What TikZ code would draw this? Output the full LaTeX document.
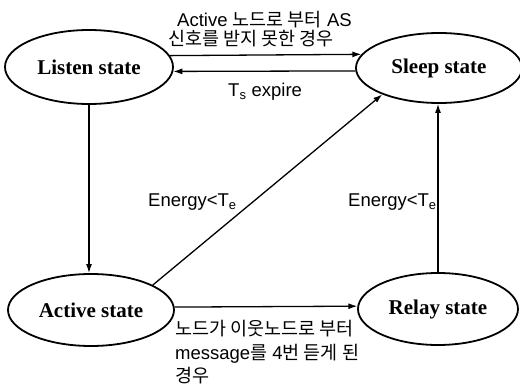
\documentclass[tikz,border=0pt]{standalone}
\usepackage{fontspec}
\setmainfont{Liberation Sans}
\newfontfamily\kr{Noto Sans CJK KR}
\newfontfamily\statefont{Liberation Serif}
\usetikzlibrary{shapes.geometric,arrows.meta}
\begin{document}
\begin{tikzpicture}[x=1pt,y=-1pt,
  state/.style={ellipse,draw,line width=1.8pt,inner sep=0pt,
    font=\statefont\bfseries\fontsize{21}{24}\selectfont},
  lbl/.style={anchor=base west,inner sep=0pt,font=\fontsize{18.5}{20}\selectfont},
  arr/.style={-{Latex[length=9pt,width=6pt]},line width=1.3pt}]
\useasboundingbox (0,0) rectangle (520,385);
% states
\node[state,minimum width=168pt,minimum height=74pt] (L) at (89,67) {Listen state};
\node[state,minimum width=166pt,minimum height=70pt] (S) at (439,68) {Sleep state};
\node[state,minimum width=166pt,minimum height=72pt] (A) at (91,310) {Active state};
\node[state,minimum width=160pt,minimum height=72pt] (R) at (438,309) {Relay state};
% connectors
\draw[arr] (L.8.7) -- (S.170.4);
\draw[arr] (S.182.8) -- (L.-3.5);
\draw[arr] (L.south) -- (L.south |- A.north);
\draw[arr] (A.22) -- (S.205.3);
\draw[arr] (R.north) -- (R.north |- S.south);
\draw[arr] (A.2) -- (R.178.5);
% labels
\node[lbl] (t1) at (177,27) {Active {\kr 노드로 부터} AS};
\node[lbl] (t2) at (168,46) {{\kr 신호를 받지 못한 경우}};
\node[lbl] (t3) at (228,97) {T\textsubscript{s} expire};
\node[lbl] (e1) at (148,207) {Energy<T\textsubscript{e}};
\node[lbl] (e2) at (348,207) {Energy<T\textsubscript{e}};
\node[lbl] (b1) at (175,335) {{\kr 노드가 이웃노드로 부터}};
\node[lbl] (b2) at (175,359) {message{\kr 를} 4{\kr 번 듣게 된}};
\node[lbl] (b3) at (175,382) {{\kr 경우}};
\end{tikzpicture}
\end{document}
